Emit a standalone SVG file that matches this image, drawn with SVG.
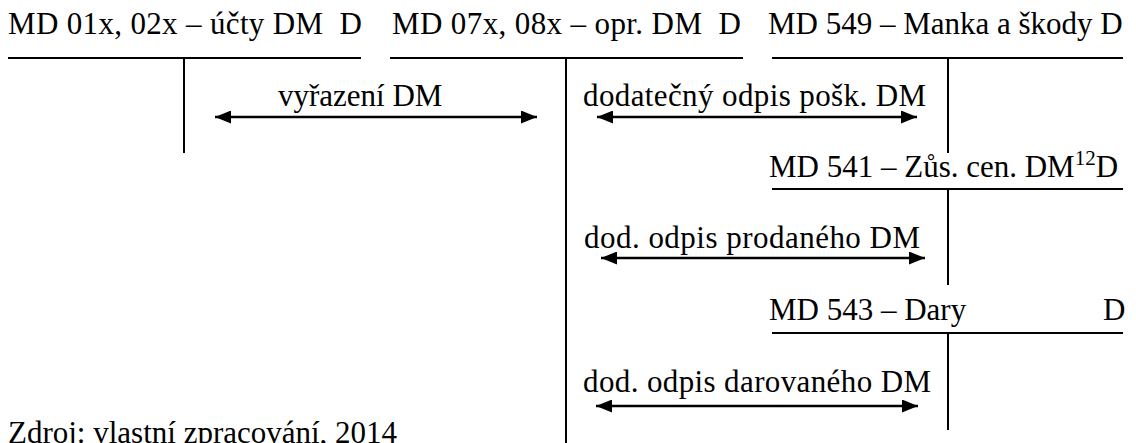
<svg xmlns="http://www.w3.org/2000/svg" width="1136" height="443" viewBox="0 0 1136 443">
<style>
text{font-family:'Liberation Serif','DejaVu Serif',serif;font-size:31px;fill:#000}
.t{stroke:#000;stroke-width:2;fill:none}
.a{stroke:#000;stroke-width:2.5;fill:none;marker-start:url(#h);marker-end:url(#h)}
</style>
<defs>
<marker id="h" viewBox="0 0 16 13" refX="16" refY="6.5" markerWidth="16" markerHeight="13" markerUnits="userSpaceOnUse" orient="auto-start-reverse">
<path d="M0,0 L16,6.5 L0,13 Z" fill="#000"/>
</marker>
</defs>
<rect width="1136" height="443" fill="#fff"/>
<g id="acc-01x">
<text x="8" y="34" xml:space="preserve" textLength="354" lengthAdjust="spacing">MD 01x, 02x – účty DM  D</text>
<line class="t" x1="8" y1="58" x2="361" y2="58"/>
<line class="t" x1="184" y1="58" x2="184" y2="153"/>
</g>
<g id="acc-07x">
<text x="392" y="34" xml:space="preserve" textLength="349" lengthAdjust="spacing">MD 07x, 08x – opr. DM  D</text>
<line class="t" x1="390" y1="58" x2="743" y2="58"/>
<line class="t" x1="566" y1="58" x2="566" y2="443"/>
</g>
<g id="acc-549">
<text x="768" y="34">MD 549 – Manka a škody D</text>
<line class="t" x1="772" y1="58" x2="1123" y2="58"/>
<line class="t" x1="948" y1="58" x2="948" y2="153"/>
</g>
<g id="acc-541">
<text x="769" y="177">MD 541 – Zůs. cen. DM<tspan font-size="21" dy="-12">12</tspan><tspan dy="12">D</tspan></text>
<line class="t" x1="772" y1="189" x2="1123" y2="189"/>
<line class="t" x1="948" y1="189" x2="948" y2="285"/>
</g>
<g id="acc-543">
<text x="769" y="320">MD 543 – Dary</text>
<text x="1103" y="320">D</text>
<line class="t" x1="772" y1="333" x2="1123" y2="333"/>
<line class="t" x1="948" y1="333" x2="948" y2="430"/>
</g>
<g id="connectors">
<line class="a" x1="215" y1="117" x2="537" y2="117"/>
<text x="278" y="106">vyřazení DM</text>
<line class="a" x1="597" y1="117" x2="917" y2="117"/>
<text x="583" y="106" textLength="343" lengthAdjust="spacing">dodatečný odpis pošk. DM</text>
<line class="a" x1="601" y1="258" x2="925" y2="258"/>
<text x="584" y="248" textLength="336" lengthAdjust="spacing">dod. odpis prodaného DM</text>
<line class="a" x1="596" y1="406" x2="918" y2="406"/>
<text x="583" y="392" textLength="348" lengthAdjust="spacing">dod. odpis darovaného DM</text>
</g>
<text x="8" y="443">Zdroj: vlastní zpracování, 2014</text>
</svg>
